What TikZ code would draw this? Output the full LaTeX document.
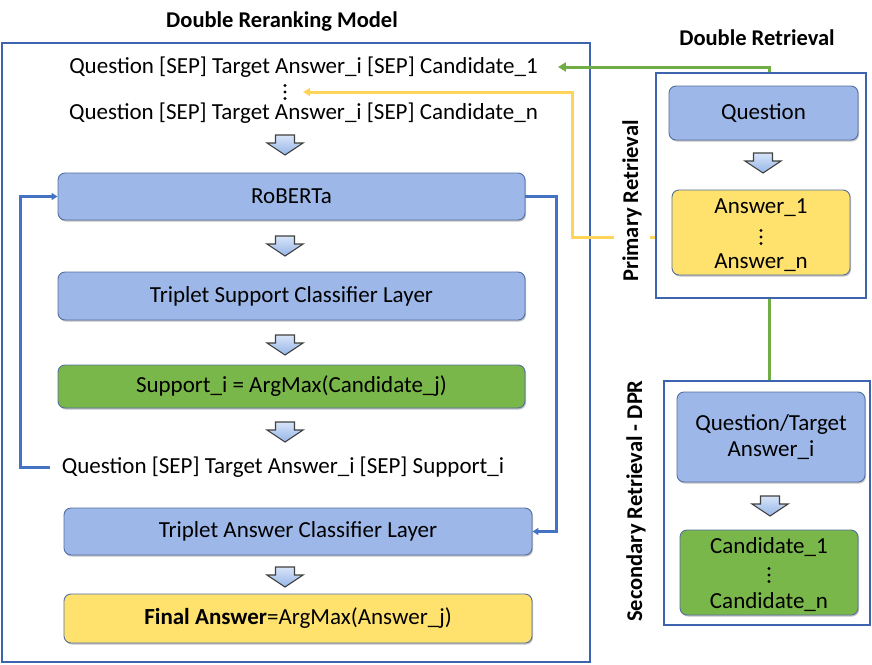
\documentclass[tikz,border=0pt]{standalone}
\usepackage{fontspec}
\setmainfont{Carlito}
\usetikzlibrary{shadows,arrows.meta,calc}
\definecolor{boxblue}{RGB}{157,184,232}
\definecolor{boxgreen}{RGB}{122,183,74}
\definecolor{boxyellow}{RGB}{255,226,110}
\definecolor{boxedge}{RGB}{84,110,160}
\definecolor{framecol}{RGB}{60,100,175}
\definecolor{lblue}{RGB}{68,114,196}
\definecolor{lgreen}{RGB}{112,173,71}
\definecolor{lyellow}{RGB}{255,212,90}
\definecolor{arrtop}{RGB}{215,228,248}
\definecolor{arrbot}{RGB}{150,182,232}
\tikzset{
  frame/.style={draw=framecol, line width=1.1pt, anchor=center, inner sep=0pt},
  cbox/.style={draw=boxedge, line width=0.9pt, rounded corners=7pt, inner sep=0pt,
     drop shadow={shadow xshift=1pt, shadow yshift=-1.5pt, opacity=0.35, fill=black!70}},
  bluebox/.style={cbox, fill=boxblue},
  greenbox/.style={cbox, fill=boxgreen},
  yellowbox/.style={cbox, fill=boxyellow},
  txt/.style={inner xsep=2pt, inner ysep=0pt},
  ttl/.style={font=\fontsize{22.5}{24}\selectfont\bfseries},
  vlab/.style={font=\fontsize{22.5}{24}\selectfont\bfseries, rotate=90, fill=white, inner xsep=0pt, inner ysep=8pt},
  bline/.style={draw=lblue, line width=3pt, -{Triangle[length=6pt,width=7pt]}},
  gline/.style={draw=lgreen, line width=3pt},
  yline/.style={draw=lyellow, line width=3pt},
  pics/vdots/.style={code={
    \fill (0,-6.5) circle (1.7) (0,0) circle (1.7) (0,6.5) circle (1.7);
  }},
  pics/darrow/.style={code={
    \draw[line width=1.1pt, draw=black!75, top color=arrtop, bottom color=arrbot, line join=miter]
      (-9.5,-10) -- (9.5,-10) -- (9.5,-2) -- (18,-2) -- (0,10) -- (-18,-2) -- (-9.5,-2) -- cycle;
  }}
}
\begin{document}
\begin{tikzpicture}[x=1pt, y=-1pt, font=\fontsize{23}{26}\selectfont]
\useasboundingbox (0,0) rectangle (872,664);
% ---------- left panel ----------
\node[ttl] (t1) at (282,22) {Double Reranking Model};
\node[frame, minimum width=588, minimum height=619] (left) at (296,352.5) {};
\node[txt, inner xsep=20pt] (q1) at (303.5,67) {Question [SEP] Target Answer\_i [SEP] Candidate\_1};
\coordinate (d1) at (285,92);
\coordinate (d1tip) at (303,92);
\pic at (d1) {vdots};
\node[txt] (qn) at (303.5,113) {Question [SEP] Target Answer\_i [SEP] Candidate\_n};
\node[bluebox, minimum width=467, minimum height=47] (rob) at (291.5,196.5) {RoBERTa};
\node[bluebox, minimum width=467, minimum height=48] (tsc) at (291.5,296) {Triplet Support Classifier Layer};
\node[greenbox, minimum width=467, minimum height=43] (sup) at (291.5,386.5) {Support\_i = ArgMax(Candidate\_j)};
\node[txt, inner xsep=12pt] (qs) at (283,467) {Question [SEP] Target Answer\_i [SEP] Support\_i};
\node[bluebox, minimum width=468, minimum height=47] (tac) at (298,531.5) {Triplet Answer Classifier Layer};
\node[yellowbox, minimum width=468, minimum height=49] (fin) at (298,618.5) {\textbf{Final Answer}=ArgMax(Answer\_j)};
\pic at (285,145) {darrow};
\pic at (285,246) {darrow};
\pic at (285,345) {darrow};
\pic at (285,432) {darrow};
\pic at (285,577) {darrow};
% ---------- right panel ----------
\node[ttl] (t2) at (757,38) {Double Retrieval};
\node[frame, minimum width=210, minimum height=225] (prim) at (761,185.5) {};
\node[bluebox, minimum width=189, minimum height=54] (qb) at (763.5,113) {Question};
\node[yellowbox, minimum width=178, minimum height=85] (ab) at (761,232.5) {};
\node[txt] (a1) at (761,208) {Answer\_1};
\coordinate (ad) at (761,237);
\pic at (ad) {vdots};
\node[txt] (an) at (761,263) {Answer\_n};
\pic at (763,163) {darrow};
\node[frame, minimum width=206, minimum height=244] (sec) at (767,503) {};
\node[bluebox, minimum width=188, minimum height=90, align=center] (qtb) at (771,437) {Question/Target\\Answer\_i};
\node[greenbox, minimum width=178, minimum height=85] (cb) at (769,572.5) {};
\node[txt] (c1) at (769,547) {Candidate\_1};
\coordinate (cd) at (769,575);
\pic at (cd) {vdots};
\node[txt] (cn) at (769,602) {Candidate\_n};
\pic at (770,506) {darrow};
% ---------- connectors ----------
\coordinate (gx) at (769,0);
\coordinate (yx) at (572,0);
\coordinate (lx) at (20,0);
\coordinate (rx) at (556,0);
\draw[gline, -{Triangle[length=8pt,width=9pt]}] (gx |- prim.north) |- (q1.east);
\draw[gline] (gx |- prim.south) -- (gx |- sec.north);
\draw[yline, -{Triangle[length=7pt,width=8pt]}] (prim.west |- ad) -| (yx |- d1tip) -- (d1tip);
\draw[bline] (qs.west) -| (lx |- rob.west) -- (rob.west);
\draw[bline] (rob.east) -| (rx |- tac.east) -- (tac.east);
% rotated labels (over the yellow line)
\node[vlab] (pl) at (632,201) {Primary Retrieval};
\node[vlab, fill=none] (sl) at (636,501) {Secondary Retrieval - DPR};
\end{tikzpicture}
\end{document}
